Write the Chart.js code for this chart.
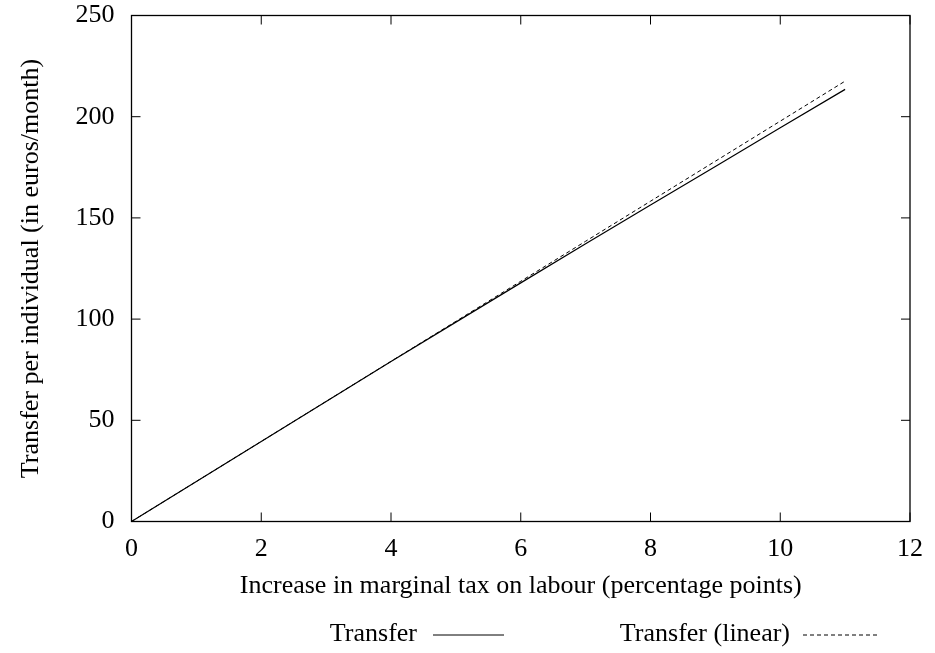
<!DOCTYPE html>
<html>
<head>
<meta charset="utf-8">
<script src="https://cdn.jsdelivr.net/npm/chart.js@4/dist/chart.umd.min.js"></script>
<style>
html,body{margin:0;padding:0;background:#fff;}
#wrap{width:935px;height:653px;}
</style>
</head>
<body>
<div id="wrap"><canvas id="c" width="935" height="653"></canvas></div>
<script>
const taxIncrease = [0, 1, 2, 3, 4, 5, 6, 7, 8, 9, 10, 11];
const transfer = [0, 19.8, 39.55, 59.3, 79.0, 98.5, 117.9, 137.2, 156.4, 175.4, 194.5, 213.5];
const transferLinear = [0, 19.78, 39.56, 59.34, 79.12, 98.9, 118.68, 138.46, 158.24, 178.02, 197.8, 217.58];
const xTicks = [0, 2, 4, 6, 8, 10, 12];
const yTicks = [0, 50, 100, 150, 200, 250];
const seriesNames = ['Transfer', 'Transfer (linear)'];
const xTitle = 'Increase in marginal tax on labour (percentage points)';
const yTitle = 'Transfer per individual (in euros/month)';

const FONT = 'Liberation Serif, Times New Roman, serif';

const framePlugin = {
  id: 'frame',
  afterDatasetsDraw(chart) {
    const {ctx, chartArea: a, scales: {x, y}} = chart;
    ctx.save();
    ctx.strokeStyle = '#000';
    ctx.lineWidth = 1.3;
    ctx.strokeRect(a.left, a.top, a.right - a.left, a.bottom - a.top);
    const L = 9;
    ctx.lineWidth = 1;
    ctx.beginPath();
    xTicks.forEach(v => {
      const px = x.getPixelForValue(v);
      ctx.moveTo(px, a.bottom); ctx.lineTo(px, a.bottom - L);
      ctx.moveTo(px, a.top); ctx.lineTo(px, a.top + L);
    });
    yTicks.forEach(v => {
      const py = y.getPixelForValue(v);
      ctx.moveTo(a.left, py); ctx.lineTo(a.left + L, py);
      ctx.moveTo(a.right, py); ctx.lineTo(a.right - L, py);
    });
    ctx.stroke();
    ctx.restore();
  },
  afterDraw(chart) {
    const {ctx} = chart;
    ctx.save();
    ctx.font = '26px ' + FONT;
    ctx.fillStyle = '#000';
    ctx.textAlign = 'right';
    ctx.textBaseline = 'middle';
    const ly = 634;
    ctx.fillText(seriesNames[0], 417, ly);
    ctx.fillText(seriesNames[1], 790, ly);
    ctx.strokeStyle = '#000';
    ctx.lineWidth = 1;
    ctx.beginPath();
    ctx.moveTo(433, ly + 1); ctx.lineTo(504, ly + 1);
    ctx.stroke();
    ctx.setLineDash([4, 3]);
    ctx.beginPath();
    ctx.moveTo(803, ly + 1); ctx.lineTo(877, ly + 1);
    ctx.stroke();
    ctx.restore();
  }
};

new Chart(document.getElementById('c'), {
  type: 'line',
  data: {
    datasets: [
      {
        label: seriesNames[0],
        data: taxIncrease.map((v, i) => ({x: v, y: transfer[i]})),
        borderColor: '#000',
        borderWidth: 1.2,
        pointRadius: 0,
        tension: 0,
        fill: false
      },
      {
        label: seriesNames[1],
        data: taxIncrease.map((v, i) => ({x: v, y: transferLinear[i]})),
        borderColor: '#000',
        borderWidth: 1,
        borderDash: [4, 3],
        pointRadius: 0,
        tension: 0,
        fill: false
      }
    ]
  },
  options: {
    responsive: false,
    animation: false,
    devicePixelRatio: 1,
    layout: {padding: {top: 15.5, right: 25, left: 0, bottom: 0}},
    plugins: {legend: {display: false}, tooltip: {enabled: false}},
    scales: {
      x: {
        type: 'linear',
        min: 0, max: 12,
        afterBuildTicks: s => { s.ticks = xTicks.map(v => ({value: v})); },
        afterFit: s => { s.height = 131.5; s.paddingLeft = 0; s.paddingRight = 0; },
        grid: {display: false, drawTicks: false},
        border: {display: false},
        ticks: {color: '#000', font: {family: FONT, size: 26, lineHeight: 1}, padding: 15, maxRotation: 0},
        title: {display: true, text: xTitle, color: '#000', font: {family: FONT, size: 26, lineHeight: 1.2}, padding: {top: 0, bottom: 51}}
      },
      y: {
        type: 'linear',
        min: 0, max: 250,
        afterBuildTicks: s => { s.ticks = yTicks.map(v => ({value: v})); },
        afterFit: s => { s.width = 131.5; s.paddingTop = 0; s.paddingBottom = 0; },
        grid: {display: false, drawTicks: false},
        border: {display: false},
        ticks: {color: '#000', font: {family: FONT, size: 26, lineHeight: 1}, padding: 17},
        title: {display: true, text: yTitle, color: '#000', font: {family: FONT, size: 26, lineHeight: 1.2}, padding: {top: 16, bottom: 0}}
      }
    }
  },
  plugins: [framePlugin]
});
</script>
</body>
</html>
